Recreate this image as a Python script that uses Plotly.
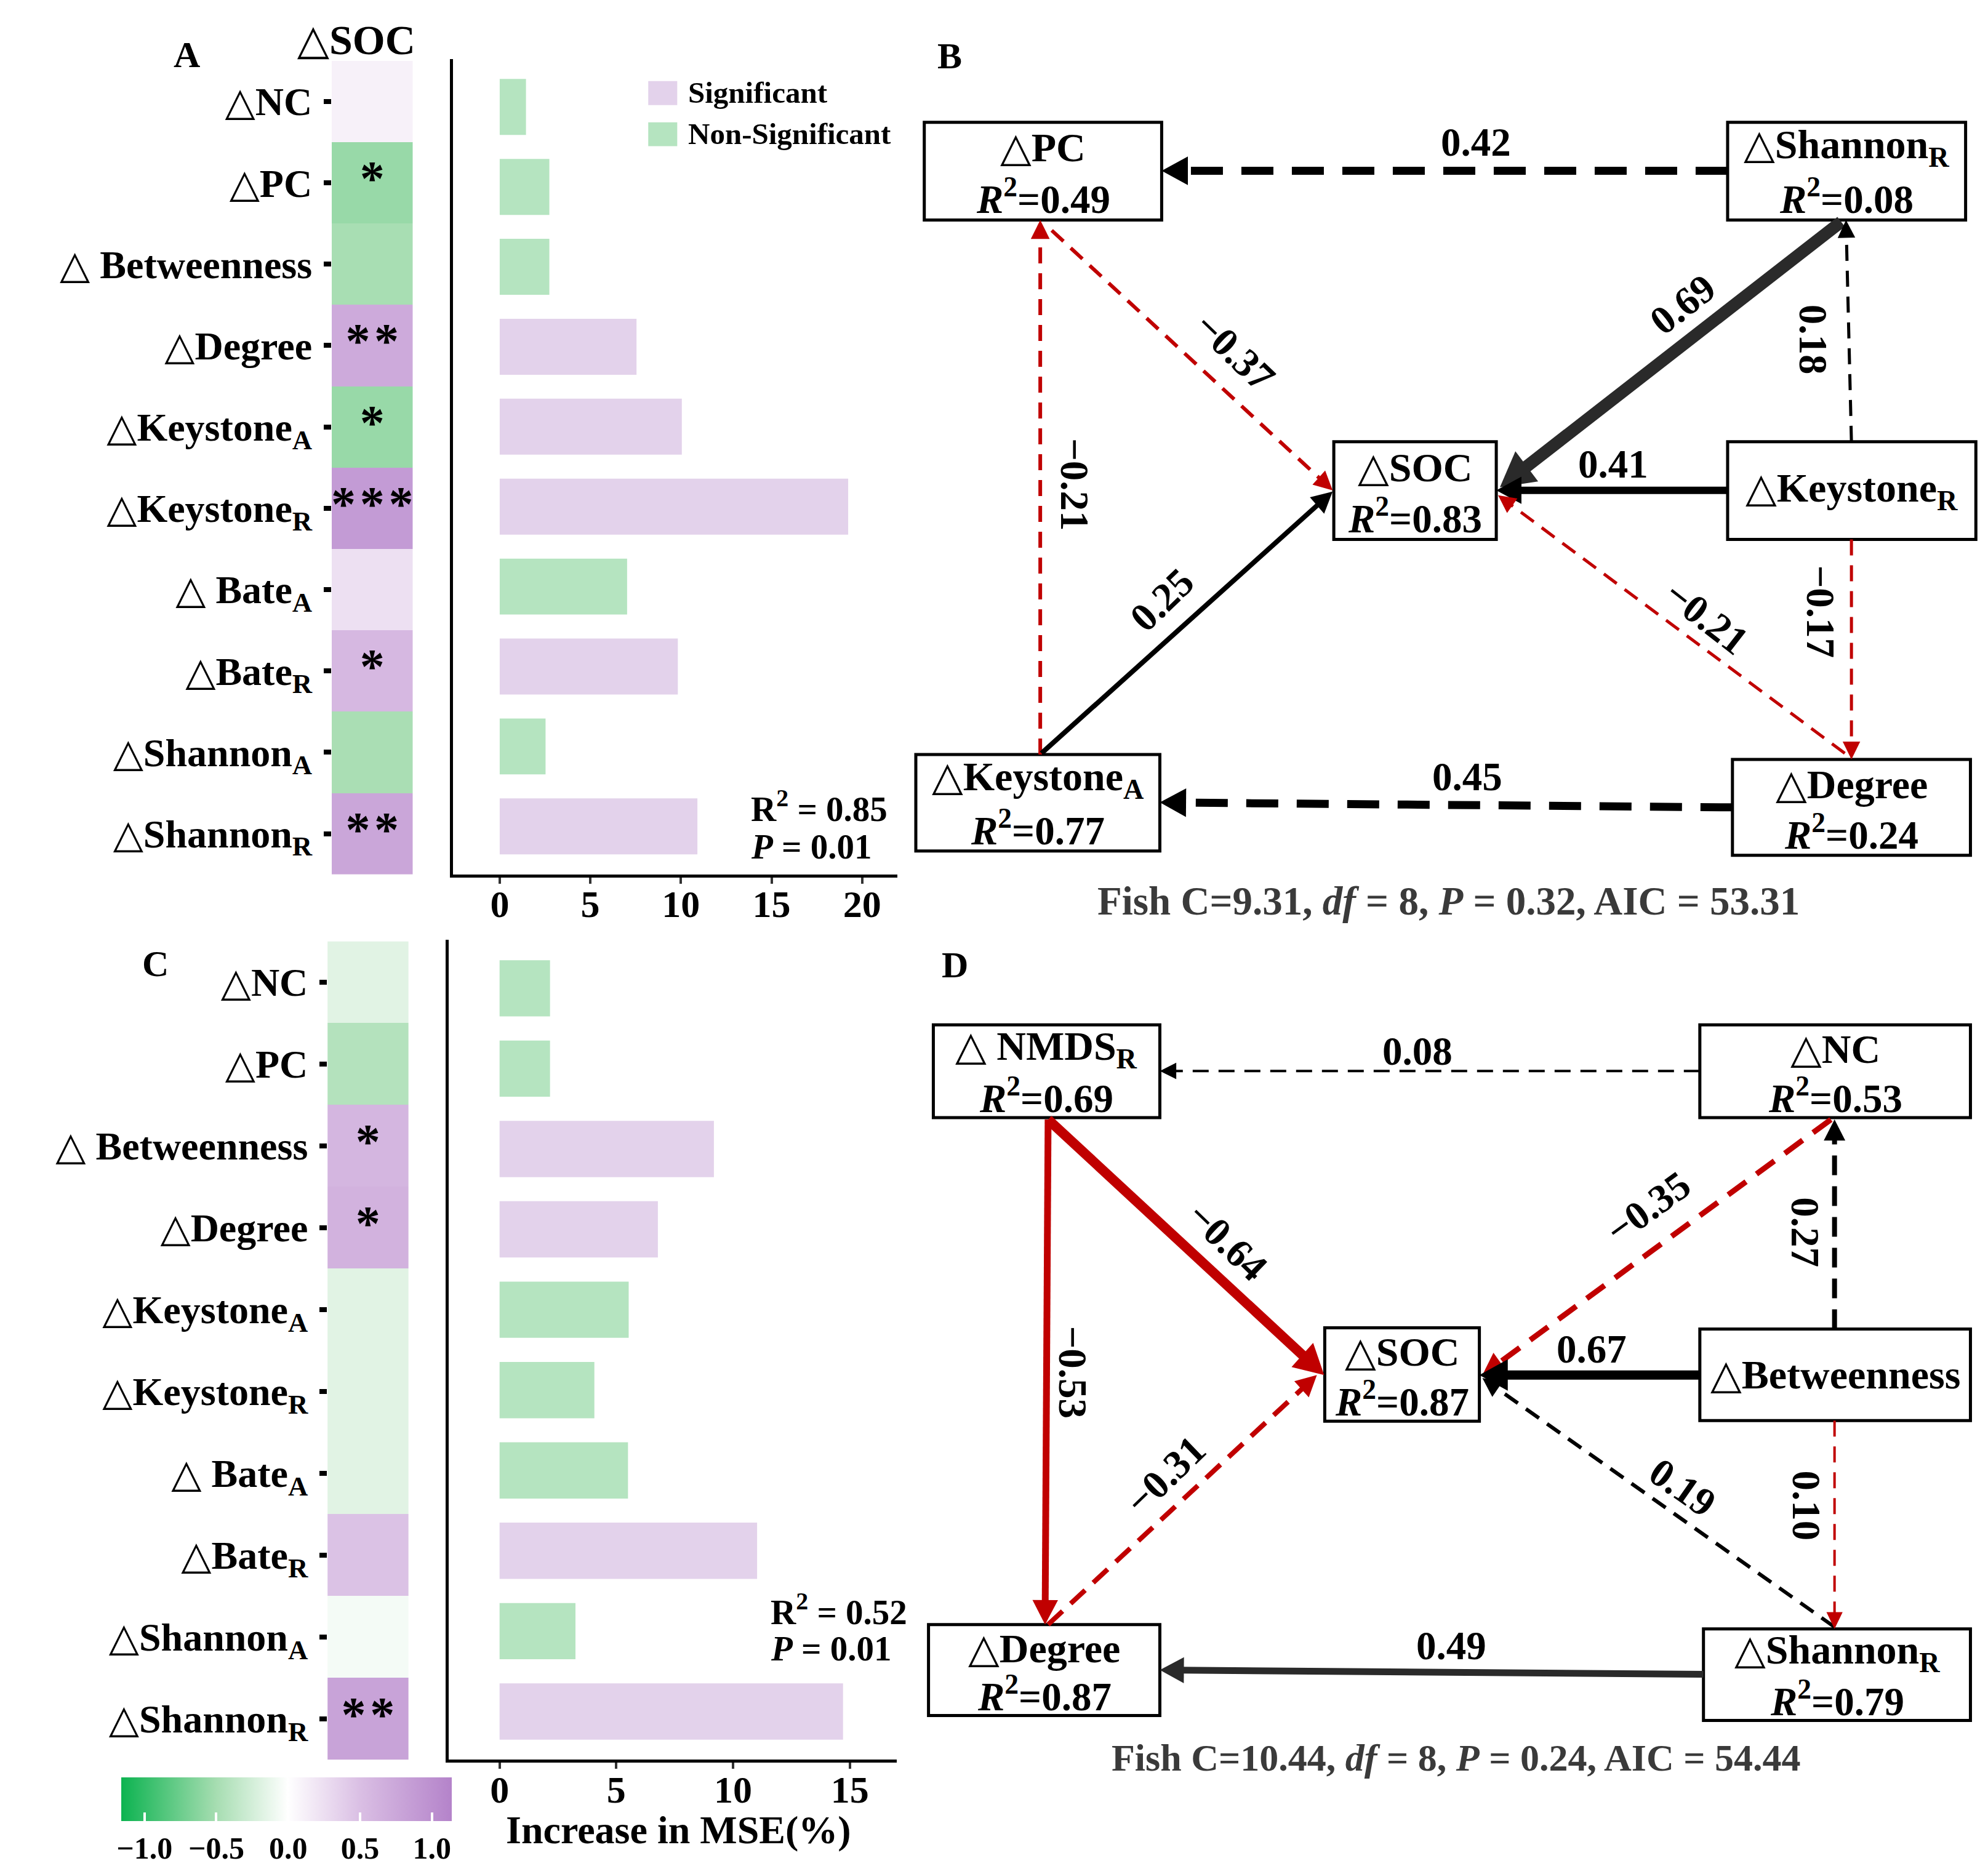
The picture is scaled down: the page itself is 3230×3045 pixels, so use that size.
import math
import plotly.graph_objects as go

W, H = 3230, 3045
OFF = 8  # page body margin of the browser; coordinates below are reference pixels

# ------------------------------------------------------------------ data
ROWS = ["△NC", "△PC", "△ Betweenness", "△Degree", "△Keystone<sub>A</sub>",
        "△Keystone<sub>R</sub>", "△ Bate<sub>A</sub>", "△Bate<sub>R</sub>",
        "△Shannon<sub>A</sub>", "△Shannon<sub>R</sub>"]
HEAT_COL = ["△SOC"]

A_CORR = [0.11, -0.56, -0.49, 0.72, -0.56, 0.88, 0.24, 0.57, -0.48, 0.77]
A_STARS = ["", "*", "", "**", "*", "***", "", "*", "", "**"]
A_MSE = [1.45, 2.74, 2.74, 7.55, 10.05, 19.23, 7.03, 9.83, 2.53, 10.91]
A_SIG = ["Non-Significant", "Non-Significant", "Non-Significant", "Significant",
         "Significant", "Significant", "Non-Significant", "Significant",
         "Non-Significant", "Significant"]
A_R2, A_P = 0.85, 0.01

C_CORR = [-0.17, -0.42, 0.60, 0.64, -0.17, -0.17, -0.17, 0.48, -0.06, 0.80]
C_STARS = ["", "", "*", "*", "", "", "", "", "", "**"]
C_MSE = [2.16, 2.16, 9.18, 6.78, 5.53, 4.06, 5.50, 11.03, 3.25, 14.71]
C_SIG = ["Non-Significant", "Non-Significant", "Significant", "Significant",
         "Non-Significant", "Non-Significant", "Non-Significant", "Significant",
         "Non-Significant", "Significant"]
C_R2, C_P = 0.52, 0.01

SIG_LEVELS = ["Significant", "Non-Significant"]
MSE_TICKS_A = [0, 5, 10, 15, 20]
MSE_TICKS_C = [0, 5, 10, 15]
CBAR_TICKS = [-1.0, -0.5, 0.0, 0.5, 1.0]
X_TITLE = "Increase in MSE(%)"

# path model B
B_NODES = ["△PC", "△Shannon<sub>R</sub>", "△SOC", "△Keystone<sub>R</sub>",
           "△Keystone<sub>A</sub>", "△Degree"]
B_R2 = [0.49, 0.08, 0.83, None, 0.77, 0.24]
B_FROM = [1, 1, 3, 3, 3, 5, 0, 4, 4, 5]
B_TO = [0, 2, 1, 2, 5, 2, 2, 0, 2, 4]
B_COEF = [0.42, 0.69, 0.18, 0.41, -0.17, -0.21, -0.37, -0.21, 0.25, 0.45]
B_SIGNIF = [False, True, False, True, False, False, False, False, True, False]
B_FIT = [9.31, 8, 0.32, 53.31]   # Fisher C, df, P, AIC

# path model D
D_NODES = ["△ NMDS<sub>R</sub>", "△NC", "△SOC", "△Betweenness", "△Degree",
           "△Shannon<sub>R</sub>"]
D_R2 = [0.69, 0.53, 0.87, None, 0.87, 0.79]
D_FROM = [1, 0, 0, 4, 1, 3, 3, 5, 3, 5]
D_TO = [0, 2, 4, 2, 2, 1, 2, 2, 5, 4]
D_COEF = [0.08, -0.64, -0.53, -0.31, -0.35, 0.27, 0.67, 0.19, 0.10, 0.49]
D_SIGNIF = [False, True, True, False, False, False, True, False, False, True]
D_FIT = [10.44, 8, 0.24, 54.44]

# ------------------------------------------------------------------ layout / style
FONT = "Liberation Serif, Times New Roman, DejaVu Serif, serif"
SIG_COLORS = {"Significant": "#E3D2EB", "Non-Significant": "#B5E4C0"}
RED, BLACK, DARK = "#C00000", "#000000", "#2A2A2A"
ZMIN, ZMAX = -1.16, 1.14
FW, FH = W - OFF, H - OFF


def nz(v):
    return (v - ZMIN) / (ZMAX - ZMIN)


CSCALE = [[0, "#0CB350"], [nz(-0.5), "#A6DDB1"], [nz(0), "#FFFFFF"],
          [nz(0.5), "#DABFE4"], [1, "#B483CA"]]


def px(x):
    return (x - OFF) / FW


def py(y):
    return 1 - (y - OFF) / FH


# node boxes (reference pixels) for the diagrams
B_BOX = [(1473, 199, 1866, 358), (2803, 199, 3197, 358), (2151, 719, 2420, 878),
         (2803, 719, 3214, 878), (1459, 1228, 1863, 1385), (2811, 1236, 3205, 1392)]
D_BOX = [(1488, 1668, 1863, 1819), (2757, 1668, 3205, 1819), (2136, 2161, 2392, 2313),
         (2757, 2163, 3205, 2312), (1480, 2644, 1863, 2792), (2763, 2651, 3205, 2800)]

# edge geometry: start, tip, colour, width, label pos, label angle
B_GEOM = [
    ((2803, 278), (1866, 278), BLACK, 13, (2386, 231), 0),
    ((2991, 361), (2426, 793), DARK, 20, (2729, 495), -38),
    ((3008, 719), (2999, 358), BLACK, 5, (2945, 553), 90),
    ((2803, 798), (2420, 798), BLACK, 12, (2614, 755), 0),
    ((3008, 878), (3008, 1236), RED, 5, (2957, 995), 90),
    ((2997, 1226), (2423, 806), RED, 5, (2768, 1005), 38),
    ((1684, 375), (2149, 798), RED, 6, (1987, 572), 44),
    ((1665, 1228), (1665, 358), RED, 6, (1722, 788), 90),
    ((1667, 1226), (2149, 800), BLACK, 8, (1867, 976), -44),
    ((2811, 1314), (1863, 1306), BLACK, 13, (2372, 1264), 0),
]
D_GEOM = [
    ((2757, 1743), (1863, 1743), BLACK, 4, (2289, 1711), 0),
    ((1678, 1822), (2135, 2238), RED, 16, (1975, 2020), 44),
    ((1678, 1822), (1673, 2644), RED, 11, (1718, 2233), 90),
    ((1678, 2644), (2123, 2238), RED, 8, (1872, 2401), -44),
    ((2974, 1822), (2397, 2238), RED, 9, (2671, 1965), -36),
    ((2980, 2163), (2980, 1822), BLACK, 8, (2932, 2005), 90),
    ((2757, 2238), (2392, 2238), BLACK, 15, (2578, 2196), 0),
    ((2980, 2648), (2397, 2243), BLACK, 6, (2729, 2421), 35),
    ((2980, 2312), (2980, 2651), RED, 4, (2934, 2450), 90),
    ((2763, 2725), (1863, 2718), DARK, 11, (2346, 2678), 0),
]

fig = go.Figure()

# ------------------------------------------------------------------ heatmaps + stars
for corr, stars, xa, ya, show in [(A_CORR, A_STARS, "x", "y", False),
                                  (C_CORR, C_STARS, "x3", "y3", True)]:
    hm = go.Heatmap(
        z=[[v] for v in corr], x=HEAT_COL, y=ROWS,
        colorscale=CSCALE, zmin=ZMIN, zmax=ZMAX, showscale=show,
        xaxis=xa, yaxis=ya, hoverinfo="skip")
    if show:
        hm.colorbar = dict(orientation="h", x=px(417.5), xanchor="center",
                           y=py(2893), yanchor="top", len=537, lenmode="pixels",
                           thickness=71, thicknessmode="pixels", outlinewidth=0,
                           tickvals=CBAR_TICKS,
                           ticktext=[f"{t:.1f}".replace("-", "−") for t in CBAR_TICKS],
                           ticks="inside", ticklen=14, tickwidth=4, tickcolor="white",
                           tickfont=dict(size=50, family=FONT, color="black"),
                           xpad=0, ypad=0)
    fig.add_trace(hm)
    keep = [i for i, s in enumerate(stars) if s]
    fig.add_trace(go.Scatter(
        x=[HEAT_COL[0]] * len(keep), y=[ROWS[i] for i in keep],
        text=["\u200a".join(stars[i]) for i in keep], mode="text",
        textfont=dict(size=80, color="black", family=FONT),
        textposition="middle center",
        xaxis=xa, yaxis=ya, hoverinfo="skip", showlegend=False))

# ------------------------------------------------------------------ bars
for mse, sig, xa, ya in [(A_MSE, A_SIG, "x2", "y2"), (C_MSE, C_SIG, "x4", "y4")]:
    fig.add_trace(go.Bar(
        x=mse, y=ROWS, orientation="h", width=0.7,
        marker=dict(color=[SIG_COLORS[s] for s in sig], line=dict(width=0)),
        xaxis=xa, yaxis=ya, hoverinfo="skip", showlegend=False))

# canvas trace for the path diagrams (node centres)
cx = [(b[0] + b[2]) / 2 for b in B_BOX + D_BOX]
cy = [(b[1] + b[3]) / 2 for b in B_BOX + D_BOX]
fig.add_trace(go.Scatter(x=cx, y=cy, mode="markers", marker=dict(size=1, opacity=0),
                         xaxis="x5", yaxis="y5", hoverinfo="skip", showlegend=False))

# ------------------------------------------------------------------ axes
tickfont = dict(size=64, family=FONT, color="black")
yheat = dict(categoryorder="array", categoryarray=ROWS, autorange="reversed",
             ticks="outside", ticklen=12, tickwidth=8, tickcolor="black",
             tickfont=tickfont, showgrid=False, zeroline=False, showline=False,
             ticklabelstandoff=6)
ybar = dict(categoryorder="array", categoryarray=ROWS, range=[9.6, -0.6],
            showticklabels=False, ticks="", showgrid=False, zeroline=False,
            showline=True, linecolor="black", linewidth=5)
xbar = dict(ticks="outside", ticklen=10, tickwidth=4, tickcolor="#333333",
            tickfont=dict(size=62, family=FONT, color="black"), showgrid=False,
            zeroline=False, showline=True, linecolor="black", linewidth=5,
            ticklabelstandoff=-20)

fig.update_layout(
    xaxis=dict(domain=[px(492), px(626)], anchor="y", side="top", ticks="",
               tickfont=dict(size=68, family=FONT, color="black"),
               ticklabelshift=-26, ticklabelstandoff=-4,
               showgrid=False, zeroline=False),
    yaxis=dict(domain=[py(1423), py(99)], anchor="x", **yheat),
    xaxis2=dict(domain=[px(693), px(1428)], anchor="y2", range=[-2.57, 21.93],
                tickvals=MSE_TICKS_A, **xbar),
    yaxis2=dict(domain=[py(1423), py(96)], anchor="x2", **ybar),
    xaxis3=dict(domain=[px(485), px(619)], anchor="y3", showticklabels=False,
                ticks="", showgrid=False, zeroline=False),
    yaxis3=dict(domain=[py(2864), py(1532)], anchor="x3", **yheat),
    xaxis4=dict(domain=[px(686), px(1427)], anchor="y4", range=[-2.17, 17.0],
                tickvals=MSE_TICKS_C, **xbar),
    yaxis4=dict(domain=[py(2864), py(1530)], anchor="x4", **ybar),
    xaxis5=dict(domain=[0, 1], anchor="y5", range=[OFF, W], visible=False),
    yaxis5=dict(domain=[0, 1], anchor="x5", range=[H, OFF], visible=False),
)

ann = []
shapes = []


def text(x, y, s, size=62, xanchor="center", angle=0, color="black"):
    ann.append(dict(x=x, y=y, xref="x5", yref="y5", text=s, showarrow=False,
                    xanchor=xanchor, yanchor="middle", textangle=angle,
                    font=dict(size=size, family=FONT, color=color, weight="bold")))


# panel letters
for letter, (x, y) in zip("ABCD", [(252, 89), (1515, 91), (200, 1569), (1524, 1571)]):
    text(x, y, letter, size=60)

# x-axis title of the lower bar chart
text(1066, 2978, X_TITLE, size=64)

# legend (manual)
for i, lev in enumerate(SIG_LEVELS):
    y0 = 132 + i * 67
    shapes.append(dict(type="rect", xref="x5", yref="y5", x0=1016, x1=1064, y0=y0,
                       y1=y0 + 39, fillcolor=SIG_COLORS[lev], line=dict(width=0)))
    text(1080, y0 + 19, lev, size=49, xanchor="left")

# R2 / P texts
text(1184, 1312, f"R<sup>2</sup> = {A_R2:.2f}", size=57, xanchor="left")
text(1184, 1378, f"<i>P</i> = {A_P:.2f}", size=57, xanchor="left")
text(1216, 2619, f"R<sup>2</sup> = {C_R2:.2f}", size=57, xanchor="left")
text(1216, 2683, f"<i>P</i> = {C_P:.2f}", size=57, xanchor="left")


def fmt(c):
    return f"{c:.2f}".replace("-", "−")


def draw_diagram(nodes, r2, boxes, coef, signif, geom, fit, cap_xy, cap_size):
    for name, r, (x0, y0, x1, y1) in zip(nodes, r2, boxes):
        shapes.append(dict(type="rect", xref="x5", yref="y5", x0=x0, y0=y0, x1=x1, y1=y1,
                           line=dict(color="black", width=5), fillcolor="rgba(0,0,0,0)"))
        xc = (x0 + x1) / 2
        h = y1 - y0
        if r is None:
            text(xc, (y0 + y1) / 2, name, size=66)
        else:
            text(xc, y0 + 0.26 * h, name, size=66)
            text(xc, y0 + 0.76 * h, f"<i>R</i><sup>2</sup>={r:.2f}", size=65)
    for c, solid, g in zip(coef, signif, geom):
        (sx, sy), (tx, ty), col, wd, (lx, ly), ang = g
        dx, dy = tx - sx, ty - sy
        d = math.hypot(dx, dy)
        ux, uy = dx / d, dy / d
        L = 20 + 1.8 * wd
        hw = 9 + 1.1 * wd
        bx, by = tx - ux * L, ty - uy * L
        ex, ey = tx - ux * L * 0.8, ty - uy * L * 0.8
        dash = "solid" if solid else f"{max(26, 4 * wd):.0f}px,{max(16, 2.3 * wd):.0f}px"
        shapes.append(dict(type="line", xref="x5", yref="y5", x0=sx, y0=sy, x1=ex, y1=ey,
                           line=dict(color=col, width=wd, dash=dash)))
        nx, ny = -uy, ux
        path = (f"M {tx},{ty} L {bx + nx * hw},{by + ny * hw} "
                f"L {bx - nx * hw},{by - ny * hw} Z")
        shapes.append(dict(type="path", xref="x5", yref="y5", path=path,
                           fillcolor=col, line=dict(width=0)))
        text(lx, ly, fmt(c), size=65, angle=ang)
    fc, df, p, aic = fit
    text(cap_xy[0], cap_xy[1],
         f"Fish C={fc:.2f}, <i>df</i> = {df}, <i>P</i> = {p:.2f}, AIC = {aic:.2f}",
         size=cap_size, color="#3A3A3A")


draw_diagram(B_NODES, B_R2, B_BOX, B_COEF, B_SIGNIF, B_GEOM, B_FIT, (2341, 1466), 65)
draw_diagram(D_NODES, D_R2, D_BOX, D_COEF, D_SIGNIF, D_GEOM, D_FIT, (2354, 2861), 62)

fig.update_layout(
    width=FW, height=FH, autosize=False,
    margin=dict(l=0, r=0, t=0, b=0, pad=0),
    paper_bgcolor="white", plot_bgcolor="rgba(0,0,0,0)",
    font=dict(family=FONT, color="black", weight="bold"),
    showlegend=False, annotations=ann, shapes=shapes,
)

fig.write_html("out.html")
